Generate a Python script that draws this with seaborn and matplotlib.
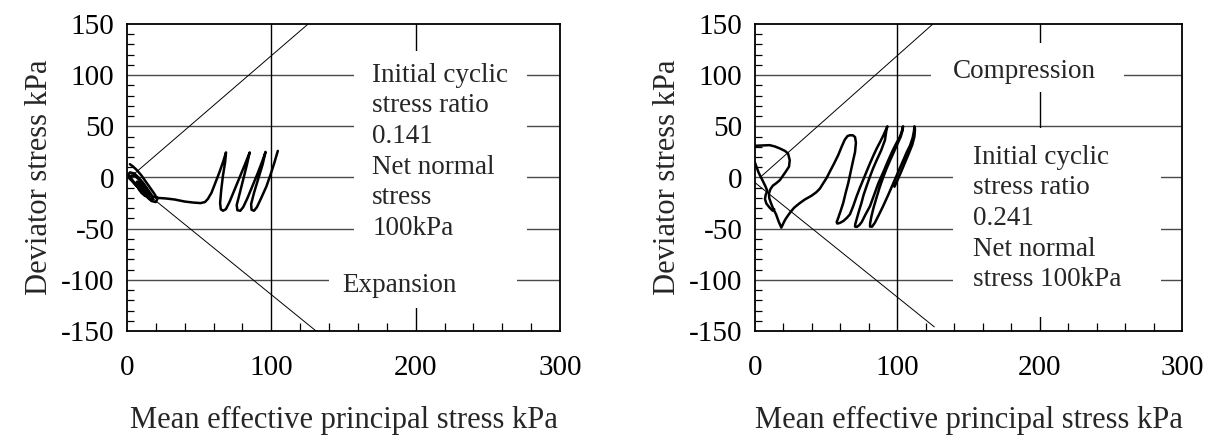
import numpy as np
import pandas as pd
import matplotlib
matplotlib.use("Agg")
import matplotlib.pyplot as plt
from matplotlib.patches import Rectangle
from matplotlib.ticker import MultipleLocator
import seaborn as sns

# ---------------- data ----------------
# Effective stress path, cyclic stress ratio 0.141 (p' kPa, q kPa)
left_p = [2, 4, 7, 10, 13, 16, 19, 21, 20, 17, 13, 9, 5, 2, 1, 2, 5, 8, 11, 14, 17, 18,
          16, 12, 8, 5, 3, 3, 6, 9, 12, 15, 16, 14, 11, 8, 6, 7, 10, 13, 14.5, 13, 10.5,
          8.5, 7.5, 9, 11.5, 13.5, 14.5, 12.5, 10, 8, 9.5, 12, 14, 15.5, 17, 19, 22,
          27, 33, 40, 46, 51, 54, 56, 58.5, 61, 64, 66.5, 68.6, 68, 66.5, 65.3, 64.5, 65,
          66.5, 68.5, 71, 74.5, 78, 81.5, 85, 83, 80.5, 78, 76, 76.5, 78.5, 80.5, 83.5, 87,
          90.5, 93.5, 96, 94, 91, 88, 86, 86.3, 88, 90, 93, 96.5, 99.5, 102, 104.5]
left_q = [13, 11, 7, 2, -4, -10, -16, -21, -24, -23, -18, -12, -6, -1, 3, 5, 4, 0, -5, -11,
          -17, -21, -21, -16, -10, -5, -1, 2, 1, -3, -8, -14, -18, -18, -14, -9, -6, -4, -7,
          -11, -15, -17, -14, -10, -7, -6, -9, -13, -17, -18, -15, -11, -9, -12, -15.5,
          -17.5, -18.5, -19, -20, -20.5, -21.5, -23.5, -24.5, -25, -24, -21, -15, -6, 5,
          15, 24.5, 15, 2, -12, -25, -31, -32.5, -31, -24, -12, 0, 12, 24.5, 12, -2, -16,
          -27, -32, -32.5, -29, -20, -8, 4, 15, 25, 13, -1, -15, -26, -31.5, -32.5, -29,
          -20, -9, 3, 14, 26]

# Effective stress path, cyclic stress ratio 0.241: early branch and main path
right_p_a = [0, 2.6, 5, 7.3, 8.6, 7.5, 7, 8, 10.3, 12.5, 13.5]
right_q_a = [14.4, 4.6, -2, -8.5, -13, -17, -21, -25.5, -29.5, -32.5, -31]

right_p_b = [0, 5, 10.3, 14, 17.4, 21, 23.2, 24.4, 23.9, 21.5, 19.5, 17.5, 15, 12.5, 10.8,
             9.8, 10, 11.2, 12.8, 14.8, 16.6, 18.5, 20, 21.3, 23, 24.8, 27.5, 31, 35, 39.5,
             43, 45.5, 48, 50.5, 52.6, 55.5, 58.5, 61, 63.1, 65, 66.7, 68.8, 70.3, 70.9,
             70.3, 69, 67.3, 65.5, 63.7, 62, 60.2, 58.5, 57.4, 57.8, 59.6, 62, 64.5, 66.7,
             69, 71.4, 73.7, 76, 78.4, 80.8, 83.2, 85.5, 88, 90.3, 92.2, 93, 92.3, 91.3,
             88.5, 85.5, 83, 80.8, 78.5, 76.3, 74.8, 73, 71.4, 70.4, 70.3, 71.5, 73.3, 75,
             77.5, 80.8, 83.7, 86.7, 90.2, 93.7, 96.6, 99.3, 101.9, 103.3, 104, 103.7,
             102.4, 100.3, 98, 95.5, 92.5, 90, 87.5, 85.3, 83.2, 81.8, 80.9, 80.8, 82.3,
             84.3, 87.2, 90, 93.6, 97.2, 100.7, 104.2, 106.7, 109, 110.8, 111.7, 112, 112.4,
             112, 110.5, 108.2, 105.2, 102.5, 100.3, 98]
right_q_b = [31, 31.3, 31.6, 30.3, 28.4, 26, 23.5, 17, 10.6, 5.5, 1.5, -2.5, -5.5, -8, -11.5,
             -15.5, -20, -25, -30.5, -36, -43, -49, -44.5, -41, -37.5, -34, -29.5, -25.5,
             -21.5, -18, -14.5, -11, -5.5, 0, 5.8, 13.5, 22, 30.5, 37, 40.5, 41.3, 41.2,
             39.5, 34, 25, 17, 6, -5.5, -15, -24.8, -32.5, -39.4, -43.5, -45, -44.4, -42.6,
             -39.5, -36, -28, -18.4, -10, -2.3, 6, 13.9, 21.5, 28.4, 35, 41.5, 47.5, 50, 46,
             36.5, 26, 17, 9, 1, -8, -17, -24.8, -33, -41, -45.8, -48, -48.3, -46.5, -43.5,
             -36.5, -28, -17, -5.5, 5.5, 17, 26, 33.5, 40, 46, 50, 46, 40, 33.5, 26.5, 18.5,
             9, 0, -10, -20, -30, -38, -44.5, -48, -48, -44, -36, -28, -17, -5.5, 5.5, 17,
             25, 31.5, 39, 45.5, 50, 47, 40, 32, 24, 14, 5, -2, -9]

# Critical state lines (compression / extension)
left_csl_p = [[2, 125.5], [0, 131]]
left_csl_q = [[0, 150], [0, -150]]
right_csl_p = [[3.5, 125], [0, 126]]
right_csl_q = [[0, 150], [-5, -146]]

x_ticks = [0, 100, 200, 300]
y_ticks = [-150, -100, -50, 0, 50, 100, 150]

left_notes = ["Initial cyclic", "stress ratio", "0.141", "Net normal", "stress", "100kPa"]
right_notes = ["Initial cyclic", "stress ratio", "0.241", "Net normal", "stress 100kPa"]

# ---------------- style ----------------
sns.set_theme(style="white")
plt.rcParams["font.family"] = ["Liberation Serif", "DejaVu Serif"]
plt.rcParams["axes.unicode_minus"] = False

fig = plt.figure(figsize=(12.11, 4.4), dpi=100)
ax_l = fig.add_axes([127 / 1211, 109 / 440, 433 / 1211, 307 / 440])
ax_r = fig.add_axes([755 / 1211, 109 / 440, 427 / 1211, 307 / 440])

TICK_FS = 21
LABEL_FS = 22
NOTE_FS = 19.5


def frame(ax):
    ax.set_xlim(0, 300)
    ax.set_ylim(-150, 150)
    ax.set_xticks(x_ticks)
    ax.set_yticks(y_ticks)
    ax.xaxis.set_minor_locator(MultipleLocator(20))
    ax.yaxis.set_minor_locator(MultipleLocator(10))
    ax.tick_params(axis="both", which="major", length=0, labelsize=TICK_FS,
                   colors="black")
    ax.tick_params(axis="x", which="major", pad=17)
    ax.tick_params(axis="y", which="major", pad=9)
    ax.tick_params(axis="x", which="minor", direction="in", length=6, width=0.9,
                   bottom=True, top=False, color="black")
    ax.tick_params(axis="y", which="minor", direction="in", length=5, width=0.9,
                   left=True, right=False, color="black")
    for s in ax.spines.values():
        s.set_color("black")
        s.set_linewidth(1.3)
    for y in (-100, -50, 0, 50, 100):
        ax.axhline(y, color="#4a4a4a", lw=1.0, zorder=0.5)
    for x in (100, 200):
        ax.axvline(x, color="black", lw=1.0, zorder=0.5)
    ax.set_xlabel("Mean effective principal stress kPa", fontsize=LABEL_FS, labelpad=18)
    ax.set_ylabel("Deviator stress kPa", fontsize=LABEL_FS, labelpad=5)


def blank(ax, x0, x1, y0, y1):
    ax.add_patch(Rectangle((x0, y0), x1 - x0, y1 - y0, facecolor="white",
                           edgecolor="none", zorder=1))


def csl(ax, ps, qs):
    for p, q in zip(ps, qs):
        ax.plot(p, q, color="black", lw=0.7, zorder=2)


def path(ax, df):
    sns.lineplot(data=df, x="p", y="q", units="seg", estimator=None, sort=False,
                 color="black", lw=1.8, ax=ax, zorder=3)


# ---------------- left panel ----------------
frame(ax_l)
blank(ax_l, 157, 277, -78, 124)
blank(ax_l, 140, 270, -128, -78)
for i, t in enumerate(left_notes):
    ax_l.text(170, 100 - 30 * i, t, fontsize=NOTE_FS, va="center", ha="left", zorder=4)
ax_l.text(149, -106, "Expansion", fontsize=NOTE_FS, va="center", ha="left", zorder=4)
csl(ax_l, left_csl_p, left_csl_q)
df_l = pd.DataFrame({"p": left_p, "q": left_q, "seg": 0})
path(ax_l, df_l)

# ---------------- right panel ----------------
frame(ax_r)
blank(ax_r, 124, 259, 84, 131)
blank(ax_r, 139, 285, -136, 48)
ax_r.text(139, 104, "Compression", fontsize=NOTE_FS, va="center", ha="left", zorder=4)
for i, t in enumerate(right_notes):
    ax_r.text(153, 20 - 30 * i, t, fontsize=NOTE_FS, va="center", ha="left", zorder=4)
csl(ax_r, right_csl_p, right_csl_q)
df_r = pd.concat([
    pd.DataFrame({"p": right_p_a, "q": right_q_a, "seg": 0}),
    pd.DataFrame({"p": right_p_b, "q": right_q_b, "seg": 1}),
], ignore_index=True)
path(ax_r, df_r)

for ax in (ax_l, ax_r):
    ax.set_xlim(0, 300)
    ax.set_ylim(-150, 150)
    leg = ax.get_legend()
    if leg is not None:
        leg.remove()

fig.savefig("out.png", dpi=100)
